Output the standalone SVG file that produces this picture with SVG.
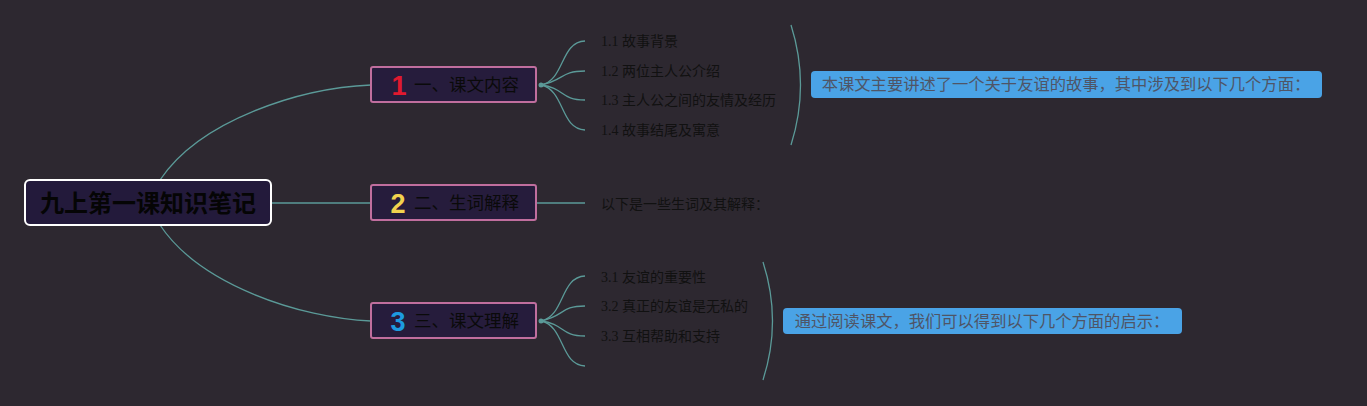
<svg xmlns="http://www.w3.org/2000/svg" width="1367" height="406" viewBox="0 0 1367 406">
<style>
.cn{font-family:"Liberation Sans","Noto Sans CJK SC",sans-serif;}
.sub{font-family:"Liberation Serif","Noto Sans CJK SC",serif;font-size:14px;fill:#111;}
.br{fill:#261c3c;stroke:#c06e9e;stroke-width:2;}
.bt{font-family:"Liberation Sans","Noto Sans CJK SC",sans-serif;font-size:17.5px;fill:#0a0a0a;}
.num{font-family:"Liberation Sans","DejaVu Sans",sans-serif;font-size:27px;font-weight:bold;}
.con{fill:none;stroke:#5b9a98;stroke-width:1.3;}
.sum{fill:#4aa3e6;}
.st{font-family:"Liberation Sans","Noto Sans CJK SC",sans-serif;font-size:16.3px;fill:#4f5566;}
</style>
<rect width="1367" height="406" fill="#2d2830"/>
<g id="connectors">
<path class="con" d="M160,180 C200,120 300,88 371,85"/>
<path class="con" d="M160,225 C200,285 300,318 371,321"/>
<path class="con" d="M271,203 L371,203"/>
<path class="con" d="M541,85 C565,80 560,42 585,41"/>
<path class="con" d="M541,85 C565,80 560,71 585,71"/>
<path class="con" d="M541,85 C565,88 560,100 585,100"/>
<path class="con" d="M541,85 C565,90 560,129 585,130"/>
<circle cx="541" cy="85" r="2.5" fill="#5b9a98"/>
<path class="con" d="M536,203 L585,203"/>
<path class="con" d="M541,321 C565,316 560,277 585,276"/>
<path class="con" d="M541,321 C565,316 560,306 585,306"/>
<path class="con" d="M541,321 C565,324 560,336 585,336"/>
<path class="con" d="M541,321 C565,326 560,365 585,366"/>
<circle cx="541" cy="321" r="2.5" fill="#5b9a98"/>
<path class="con" d="M791,25 Q810,85 791,145"/>
<path class="con" d="M763,262 Q782,321 763,380"/>
</g>
<g id="root">
<rect x="25" y="180" width="246" height="45" rx="5" fill="#231a3b" stroke="#ffffff" stroke-width="2"/>
<text class="cn" x="148" y="212" font-size="24" font-weight="bold" fill="#050505" text-anchor="middle">九上第一课知识笔记</text>
</g>
<g id="branch1">
<rect class="br" x="371" y="67" width="165" height="35" rx="2"/>
<text class="num" x="399" y="95" fill="#e0192f" text-anchor="middle">1</text>
<text class="bt" x="414" y="91">一、课文内容</text>
</g>
<g id="branch2">
<rect class="br" x="371" y="185" width="165" height="35" rx="2"/>
<text class="num" x="398" y="213" fill="#f2d24e" text-anchor="middle">2</text>
<text class="bt" x="414" y="209">二、生词解释</text>
</g>
<g id="branch3">
<rect class="br" x="371" y="303" width="165" height="35" rx="2"/>
<text class="num" x="398" y="331" fill="#1d9be0" text-anchor="middle">3</text>
<text class="bt" x="414" y="327">三、课文理解</text>
</g>
<g id="sub1-1"><text class="sub" x="601" y="46">1.1 故事背景</text></g>
<g id="sub1-2"><text class="sub" x="601" y="76">1.2 两位主人公介绍</text></g>
<g id="sub1-3"><text class="sub" x="601" y="105">1.3 主人公之间的友情及经历</text></g>
<g id="sub1-4"><text class="sub" x="601" y="135">1.4 故事结尾及寓意</text></g>
<g id="sub2-1"><text class="sub" x="601" y="209">以下是一些生词及其解释：</text></g>
<g id="sub3-1"><text class="sub" x="601" y="282">3.1 友谊的重要性</text></g>
<g id="sub3-2"><text class="sub" x="601" y="311">3.2 真正的友谊是无私的</text></g>
<g id="sub3-3"><text class="sub" x="601" y="341">3.3 互相帮助和支持</text></g>
<g id="summary1">
<rect class="sum" x="811" y="71" width="511" height="27" rx="4"/>
<text class="st" x="1066" y="90" text-anchor="middle">本课文主要讲述了一个关于友谊的故事，其中涉及到以下几个方面：</text>
</g>
<g id="summary3">
<rect class="sum" x="783" y="308" width="399" height="26" rx="4"/>
<text class="st" x="982" y="327" text-anchor="middle">通过阅读课文，我们可以得到以下几个方面的启示：</text>
</g>
</svg>
